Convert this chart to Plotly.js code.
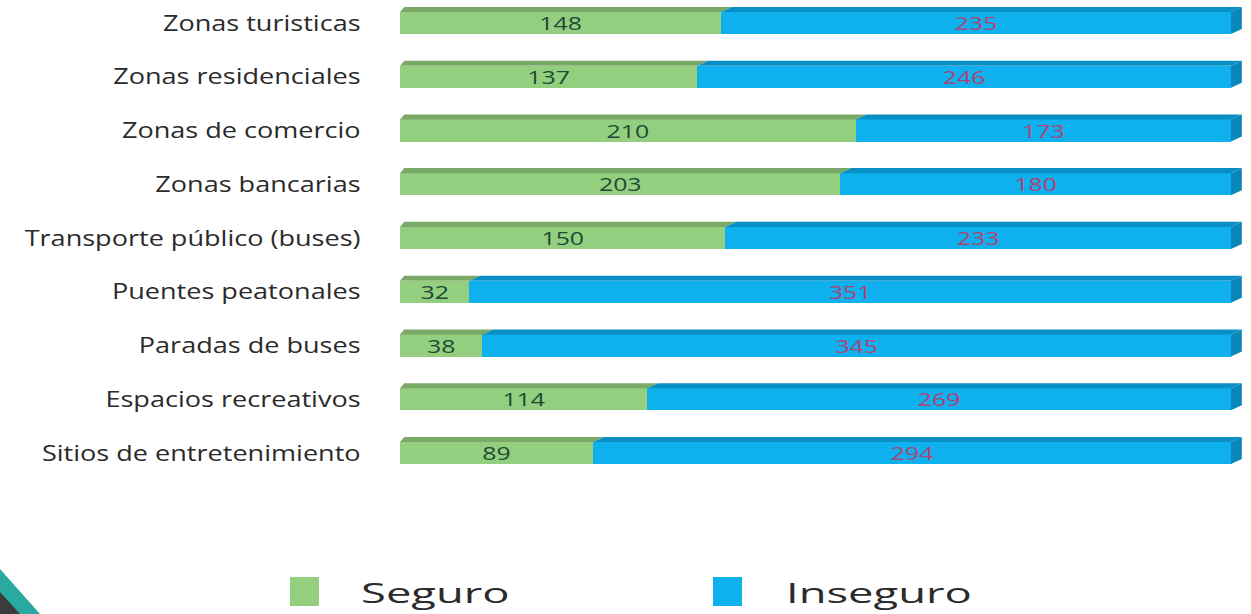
<!DOCTYPE html>
<html>
<head>
<meta charset="utf-8">
<script src="https://cdn.plot.ly/plotly-3.0.1.min.js"></script>
<style>html,body{margin:0;padding:0;background:#fff;}#chart{width:1251px;height:614px;}</style>
</head>
<body>
<div id="chart"></div>
<script>
const categories = ["Zonas turisticas","Zonas residenciales","Zonas de comercio","Zonas bancarias","Transporte público (buses)","Puentes peatonales","Paradas de buses","Espacios recreativos","Sitios de entretenimiento"];
const seguro = [148,137,210,203,150,32,38,114,89];
const inseguro = [235,246,173,180,233,351,345,269,294];
const seriesNames = ["Seguro","Inseguro"];

const W = 1251, H = 614, L = 400, R = 7, T = 0, B = 124;
const plotW = W - L - R, plotH = H - T - B;
const GREEN = "#93cf7f", BLUE = "#0fb0ee";
const GREEN_TOP = "#7aa866", BLUE_TOP = "#0a8fc4", BLUE_SIDE = "#0b86b8";
const idx = categories.map((_, i) => i);
const barW = 0.41, strip = 0.095, skew = 5;
const xMax = 389;

const px2x = px => (px - L) / plotW;
const py2y = py => 1 - (py - T) / plotH;

const traces = [
  {type:"bar", orientation:"h", name:seriesNames[0], y:idx, x:seguro, width:barW,
   marker:{color:GREEN, line:{width:0}}, text:seguro.map(String), textposition:"inside",
   insidetextanchor:"middle", textangle:0, constraintext:"none",
   textfont:{family:"Open Sans", size:18, color:"#1d4a36"},
   hoverinfo:"x+name", showlegend:false},
  {type:"bar", orientation:"h", name:seriesNames[1], y:idx, x:inseguro, width:barW,
   marker:{color:BLUE, line:{width:0}}, text:inseguro.map(String), textposition:"inside",
   insidetextanchor:"middle", textangle:0, constraintext:"none",
   textfont:{family:"Open Sans", size:18, color:"#ad4475"},
   hoverinfo:"x+name", showlegend:false}
];

const shapes = [];
idx.forEach(i => {
  const top = i - barW/2, bot = i + barW/2;
  const s = seguro[i], t = seguro[i] + inseguro[i];
  shapes.push({type:"path", xref:"x", yref:"y", line:{width:0}, fillcolor:GREEN_TOP,
    path:`M0,${top} L${s},${top} L${s+skew},${top-strip} L${skew*0.4},${top-strip} Z`});
  shapes.push({type:"path", xref:"x", yref:"y", line:{width:0}, fillcolor:BLUE_TOP,
    path:`M${s},${top} L${t},${top} L${t+skew},${top-strip} L${s+skew},${top-strip} Z`});
  shapes.push({type:"path", xref:"x", yref:"y", line:{width:0}, fillcolor:BLUE_SIDE,
    path:`M${t},${bot} L${t},${top} L${t+skew},${top-strip} L${t+skew},${bot-strip} Z`});
});

shapes.push({type:"rect", xref:"paper", yref:"paper", line:{width:0}, fillcolor:GREEN,
  x0:px2x(290), x1:px2x(319), y0:py2y(606), y1:py2y(577)});
shapes.push({type:"rect", xref:"paper", yref:"paper", line:{width:0}, fillcolor:BLUE,
  x0:px2x(713), x1:px2x(742), y0:py2y(606), y1:py2y(577)});
shapes.push({type:"path", xref:"paper", yref:"paper", line:{width:0}, fillcolor:"#2aa9a1",
  path:`M${px2x(0)},${py2y(569)} L${px2x(40)},${py2y(614)} L${px2x(0)},${py2y(614)} Z`});
shapes.push({type:"path", xref:"paper", yref:"paper", line:{width:0}, fillcolor:"#3b3b3b",
  path:`M${px2x(0)},${py2y(592)} L${px2x(20)},${py2y(614)} L${px2x(0)},${py2y(614)} Z`});

const annotations = [
  {xref:"paper", yref:"paper", x:px2x(359), y:py2y(592), xanchor:"left", yanchor:"middle",
   text:seriesNames[0], showarrow:false, font:{family:"Open Sans", size:28, color:"#2b2b2b"}},
  {xref:"paper", yref:"paper", x:px2x(784), y:py2y(592), xanchor:"left", yanchor:"middle",
   text:seriesNames[1], showarrow:false, font:{family:"Open Sans", size:28, color:"#2b2b2b"}}
];

const layout = {
  width:W, height:H, margin:{l:L, r:R, t:T, b:B},
  paper_bgcolor:"#ffffff", plot_bgcolor:"#ffffff",
  barmode:"stack", showlegend:false,
  xaxis:{range:[0, xMax], visible:false, fixedrange:true},
  yaxis:{range:[(plotH - 23)/53.75, -23/53.75], tickvals:idx, ticktext:categories,
    showgrid:false, zeroline:false, showline:false, ticks:"outside", ticklen:34,
    tickcolor:"rgba(0,0,0,0)", tickfont:{family:"Open Sans", size:22, color:"#2b2b2b"}},
  shapes:shapes, annotations:annotations
};

function stretch(el, s, anchor) {
  const bb = el.getBBox();
  const ax = anchor === "end" ? bb.x + bb.width : anchor === "start" ? bb.x : bb.x + bb.width / 2;
  const prev = el.getAttribute("transform") || "";
  el.setAttribute("transform", `${prev} translate(${ax},0) scale(${s},1) translate(${-ax},0)`);
}

Plotly.newPlot("chart", traces, layout, {displayModeBar:false, staticPlot:true}).then(gd => {
  gd.querySelectorAll(".ytick text").forEach(el => stretch(el, 1.23, "end"));
  gd.querySelectorAll("text.bartext").forEach(el => stretch(el, 1.38, "middle"));
  gd.querySelectorAll(".annotation-text").forEach(el => stretch(el, 1.62, "start"));
});
</script>
</body>
</html>
